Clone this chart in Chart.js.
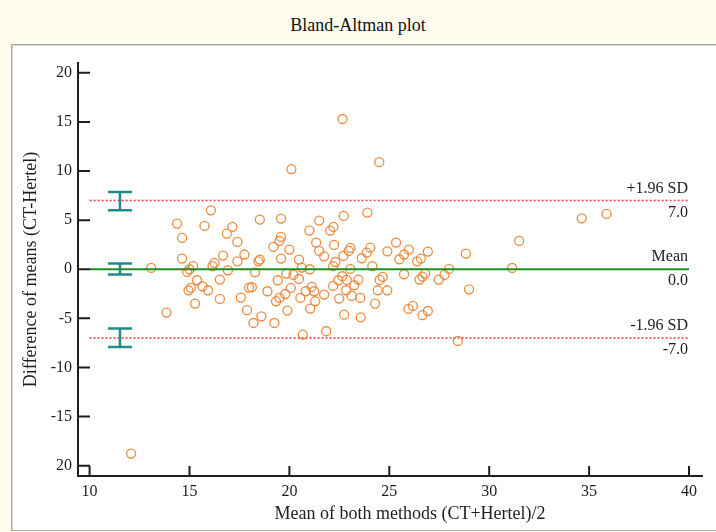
<!DOCTYPE html>
<html>
<head>
<meta charset="utf-8">
<script src="https://cdn.jsdelivr.net/npm/chart.js@4.4.1/dist/chart.umd.min.js"></script>
<style>
  html, body { margin: 0; padding: 0; width: 716px; height: 532px; overflow: hidden; background: #fdfcee; }
  #title { position: absolute; left: 0; top: 0; width: 716px; height: 44px; line-height: 50px; text-align: center;
    font-family: "Liberation Serif", "DejaVu Serif", serif; font-size: 18px; color: #111; }
  #panel { position: absolute; left: 11px; top: 44px; width: 720px; height: 485px; background: #fff;
    border: 1px solid #a9a9a2; box-shadow: inset 1px 1px 0 #d8d8d0; }
  #wrap { position: absolute; left: 0; top: 0; width: 716px; height: 532px; }
</style>
</head>
<body>
<div id="title">Bland-Altman plot</div>
<div id="panel"></div>
<div id="wrap"><canvas id="baChart" width="716" height="532"></canvas></div>
<script>
// mean of both methods (x) and difference (y)
const meanVals = [
  16.07, 14.38, 15.75, 17.15, 16.87, 14.63, 17.40, 17.75, 16.68, 14.63,
  17.40, 15.18, 16.25, 16.15, 13.08, 15.00, 14.88, 16.92, 15.38, 16.52,
  15.65, 15.07, 15.93, 14.95, 16.52, 17.57, 15.28, 13.85, 17.88, 17.98,
  18.52, 19.58, 22.72, 23.90, 21.49, 21.00, 22.04, 22.20, 19.58, 19.50,
  19.20, 20.00, 21.34, 22.24, 21.49, 21.74, 23.05, 22.97, 22.70, 23.62,
  23.87, 22.30, 19.58, 18.52, 18.45, 20.48, 20.62, 21.02, 22.19, 23.05,
  18.28, 19.85, 20.20, 20.48, 19.42, 18.12, 18.90, 20.07, 19.79, 19.50,
  19.33, 21.12, 21.24, 20.82, 20.55, 21.74, 21.29, 21.04, 22.19, 22.45,
  22.65, 22.87, 23.45, 23.25, 22.84, 22.49, 23.12, 23.55, 22.74, 23.57,
  19.90, 18.60, 18.20, 19.25, 20.67, 21.84,
  25.34, 24.90, 24.05, 25.98, 25.74, 25.50, 26.93, 26.58, 26.39, 28.83,
  24.15, 25.74, 24.67, 24.52, 26.79, 26.66, 26.51, 27.48, 27.76, 27.99,
  24.42, 24.90, 28.99, 24.29, 26.18, 25.96, 26.93, 26.66, 28.43,
  22.66, 20.10, 24.50, 34.63, 35.87, 31.50, 31.15, 12.08
];
const diffVals = [
  6.00, 4.65, 4.41, 4.31, 3.63, 3.19, 2.78, 1.50, 1.39, 1.09,
  0.81, 0.31, 0.64, 0.31, 0.14, 0.00, -0.27, -0.10, -1.12, -1.05,
  -1.73, -1.90, -2.14, -2.14, -3.02, -2.88, -3.49, -4.41, -4.17, -1.87,
  5.06, 5.16, 5.43, 5.77, 4.96, 3.94, 3.94, 4.31, 3.29, 2.88,
  2.27, 2.00, 2.72, 2.48, 1.87, 1.32, 2.17, 1.87, 1.36, 1.12,
  1.70, 0.74, 1.09, 0.99, 0.81, 0.99, 0.17, 0.00, 0.31, 0.03,
  -0.31, -0.44, -0.58, -0.99, -1.12, -1.83, -2.24, -1.90, -2.52, -2.92,
  -3.26, -1.80, -2.24, -2.24, -2.92, -2.58, -3.26, -4.00, -1.70, -1.12,
  -0.71, -1.09, -1.05, -1.63, -2.14, -2.99, -2.72, -2.92, -4.62, -4.89,
  -4.21, -4.79, -5.47, -5.47, -6.65, -6.31,
  2.72, 1.83, 2.21, 2.00, 1.50, 1.02, 1.80, 1.09, 0.81, 1.60,
  0.31, -0.51, -0.78, -1.09, -0.44, -0.75, -1.05, -1.05, -0.58, 0.03,
  -2.14, -2.14, -2.04, -3.49, -3.73, -4.04, -4.25, -4.68, -7.30,
  15.30, 10.20, 10.90, 5.19, 5.63, 2.88, 0.13, -18.77
];

// limits of agreement
const limitValues = [7.0, 0.0, -7.0];
const limitNames = ['+1.96 SD', 'Mean', '-1.96 SD'];
const limitRange = [10, 40];

// confidence intervals of the limits (drawn at one x position)
const ciX = 11.52;
const ciLow = [6.0, -0.54, -7.91];
const ciHigh = [7.87, 0.58, -6.04];

const xTicks = [10, 15, 20, 25, 30, 35, 40];
const yTicks = [-20, -15, -10, -5, 0, 5, 10, 15, 20];
const yTickLabels = ['20', '-15', '-10', '-5', '0', '5', '10', '15', '20'];
const xRange = [9.42, 40.65];
const yRange = [-21.05, 21.0];

const serif = '"Liberation Serif", "DejaVu Serif", serif';
const ink = '#1e1e1e';

const extras = {
  id: 'extras',
  afterDatasetsDraw(chart) {
    const { ctx, chartArea: a, scales: { x, y } } = chart;
    ctx.save();
    // inward tick marks
    ctx.strokeStyle = ink;
    ctx.lineWidth = 2;
    ctx.beginPath();
    xTicks.forEach(v => { const px = x.getPixelForValue(v); ctx.moveTo(px, a.bottom); ctx.lineTo(px, a.bottom - 10); });
    yTicks.forEach(v => { const py = y.getPixelForValue(v); ctx.moveTo(a.left, py); ctx.lineTo(a.left + 12, py); });
    ctx.stroke();

    // CI bars
    ctx.strokeStyle = '#1f8b8b';
    ctx.lineWidth = 2.5;
    const cx = x.getPixelForValue(ciX);
    ciLow.forEach((lo, i) => {
      const p1 = y.getPixelForValue(lo), p2 = y.getPixelForValue(ciHigh[i]);
      ctx.beginPath();
      ctx.moveTo(cx, p1); ctx.lineTo(cx, p2);
      ctx.moveTo(cx - 12, p1); ctx.lineTo(cx + 12, p1);
      ctx.moveTo(cx - 12, p2); ctx.lineTo(cx + 12, p2);
      ctx.stroke();
    });

    // labels at the right end of each line
    ctx.fillStyle = ink;
    ctx.font = '16px ' + serif;
    ctx.textAlign = 'right';
    ctx.textBaseline = 'middle';
    const rx = x.getPixelForValue(limitRange[1]) - 1;
    limitValues.forEach((v, i) => {
      const py = y.getPixelForValue(v);
      ctx.fillText(limitNames[i], rx, py - 12);
      ctx.fillText(v.toFixed(1), rx, py + 12);
    });

    // x axis title
    ctx.font = '18px ' + serif;
    ctx.textAlign = 'center';
    ctx.fillText('Mean of both methods (CT+Hertel)/2', 410, 514);
    ctx.restore();
  }
};

const lineDs = limitValues.map((v, i) => ({
  type: 'line',
  data: limitRange.map(xv => ({ x: xv, y: v })),
  borderColor: i === 1 ? '#228b22' : '#e0474c',
  borderWidth: i === 1 ? 2.2 : 1.6,
  borderDash: i === 1 ? [] : [2, 2],
  pointRadius: 0,
  fill: false,
  order: 0
}));

new Chart(document.getElementById('baChart'), {
  type: 'scatter',
  data: {
    datasets: [
      {
        data: meanVals.map((m, i) => ({ x: m, y: diffVals[i] })),
        pointStyle: 'circle',
        pointRadius: 4.5,
        pointBorderWidth: 1.3,
        borderColor: '#ef8a3e',
        backgroundColor: 'rgba(0,0,0,0)',
        order: 1
      },
      ...lineDs
    ]
  },
  plugins: [extras],
  options: {
    responsive: false,
    animation: false,
    layout: { padding: { left: 12, top: 63, right: 14, bottom: 26 } },
    plugins: { legend: { display: false }, tooltip: { enabled: false } },
    scales: {
      x: {
        type: 'linear',
        min: xRange[0], max: xRange[1],
        afterBuildTicks: s => { s.ticks = xTicks.map(v => ({ value: v })); },
        afterFit: s => { s.height = 30; },
        grid: { display: true, drawOnChartArea: false, drawTicks: false },
        border: { display: true, color: ink, width: 2 },
        ticks: { padding: 6, color: ink, font: { family: serif, size: 16 }, maxRotation: 0 }
      },
      y: {
        type: 'linear',
        min: yRange[0], max: yRange[1],
        afterBuildTicks: s => { s.ticks = yTicks.map(v => ({ value: v })); },
        afterFit: s => { s.width = 66; },
        grid: { display: true, drawOnChartArea: false, drawTicks: false },
        border: { display: true, color: ink, width: 2 },
        ticks: {
          padding: 6, color: ink, font: { family: serif, size: 16 },
          callback: v => { const k = yTicks.indexOf(v); return k < 0 ? '' : yTickLabels[k]; }
        },
        title: {
          display: true, text: 'Difference of means (CT-Hertel)', color: ink,
          font: { family: serif, size: 18 }, padding: { top: 8, bottom: 0 }
        }
      }
    }
  }
});
</script>
</body>
</html>
